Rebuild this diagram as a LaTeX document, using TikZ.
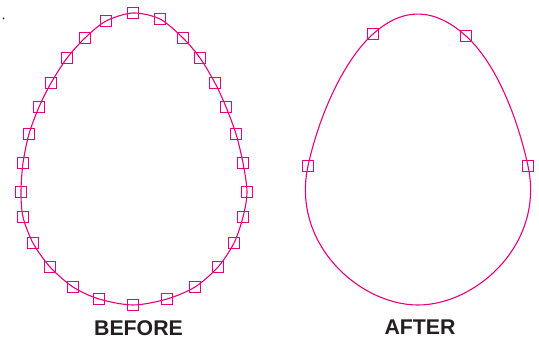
\documentclass[tikz,border=0pt]{standalone}
\usepackage{fontspec}
\setmainfont{Liberation Sans}
\usetikzlibrary{positioning}
\definecolor{rhod}{HTML}{E6007E}
\definecolor{ink}{HTML}{231F20}

\begin{document}
\begin{tikzpicture}[x=1pt,y=-1pt,
  handle/.style={rectangle,draw=rhod,line width=1.2pt,minimum size=10.8pt,
    inner sep=0pt,outer sep=0pt},
  egg/.style={draw=rhod,line width=1.1pt},
  tag/.style={font=\bfseries\fontsize{21.3}{24}\selectfont,text=ink,
    anchor=base,inner sep=0pt}]
\useasboundingbox (0,0) rectangle (539,338);
\fill[ink] (3.5,18.3) circle[radius=1pt];
\foreach \x/\y [count=\i] in {133/13,160/19,183/38,200/58,215/83,226/107,
  236/134,243/163,247/192,243/217,234/243,218/267,195/287,167/299,133/305,
  99/299,73/287,50/267,33/243,23/217,21/192,23/163,29/134,39/107,51/83,
  67/58,85/38,106/21}
  \node[handle] (b\i) at (\x,\y) {};
\draw[egg] plot[smooth cycle,tension=0.5] coordinates {(b1.center) (b2.center)
  (b3.center) (b4.center) (b5.center) (b6.center) (b7.center) (b8.center)
  (b9.center) (b10.center) (b11.center) (b12.center) (b13.center) (b14.center)
  (b15.center) (b16.center) (b17.center) (b18.center) (b19.center) (b20.center)
  (b21.center) (b22.center) (b23.center) (b24.center) (b25.center) (b26.center)
  (b27.center) (b28.center)};
\node[handle] (al) at (308,166) {};
\node[handle] (atl) at (373,34) {};
\node[handle] (atr) at (466,36) {};
\node[handle] (ar) at (528,166) {};
\coordinate (abot) at (418,305);
\draw[egg] (al.center) .. controls (318.6,117.1) and (343,61) .. (atl.center)
  .. controls (404,6.1) and (435,8.1) .. (atr.center)
  .. controls (496,63) and (517.4,117.1) .. (ar.center)
  .. controls (544.9,244.2) and (476,305) .. (abot)
  .. controls (360,305) and (291.1,244.2) .. (al.center);
\node[tag] (before) at (138.5,335) {BEFORE};
\node[tag] (after) at (420,334.5) {AFTER};
\end{tikzpicture}
\end{document}
